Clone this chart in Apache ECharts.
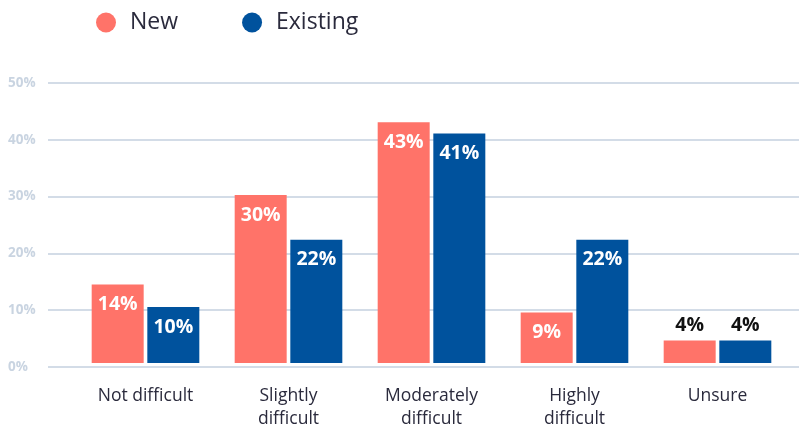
<!DOCTYPE html>
<html>
<head>
<meta charset="utf-8">
<script src="https://cdn.jsdelivr.net/npm/echarts@6/dist/echarts.min.js"></script>
<style>
  html, body { margin: 0; padding: 0; background: #ffffff; }
  #chart { width: 799px; height: 431px; }
</style>
</head>
<body>
<div id="chart"></div>
<script>
// Survey answers: how difficult it was, for new vs existing respondents
const categories = ['Not difficult', 'Slightly\ndifficult', 'Moderately\ndifficult', 'Highly\ndifficult', 'Unsure'];
const newValues = [14, 30, 43, 9, 4];
const existingValues = [10, 22, 41, 22, 4];
const yTicks = [0, 10, 20, 30, 40, 50];

const NEW_COLOR = '#ff7369';
const EXISTING_COLOR = '#00529d';
const FONT = '"Open Sans", Lato, "Noto Sans", sans-serif';

// Short bars get their label above the bar in dark text
function toItems(values) {
  return values.map(v => v < 6
    ? { value: v, label: { position: 'top', distance: 5, color: '#111111' } }
    : { value: v });
}

const barLabel = {
  show: true,
  position: 'insideTop',
  distance: 10,
  color: '#ffffff',
  fontFamily: FONT,
  fontWeight: 'bold',
  fontSize: 19.5,
  formatter: p => p.value + '%'
};

const chart = echarts.init(document.getElementById('chart'), null, { renderer: 'canvas' });
chart.setOption({
  animation: false,
  backgroundColor: '#ffffff',
  legend: {
    left: 91,
    top: 6,
    icon: 'circle',
    itemWidth: 20,
    itemHeight: 20,
    itemGap: 64,
    textStyle: { fontFamily: FONT, fontSize: 23, color: '#2a2a3c', padding: [0, 0, 0, 9] },
    data: ['New', 'Existing']
  },
  grid: [
    // full-width grid carrying the value gridlines
    { left: 48, right: 0, top: 83, bottom: 64 },
    // inset grid holding the bars
    { left: 74, right: 10, top: 83, bottom: 64 }
  ],
  xAxis: [
    { type: 'value', gridIndex: 0, show: false, min: 0, max: 1 },
    {
      type: 'category',
      gridIndex: 1,
      data: categories,
      axisLine: { show: false },
      axisTick: { show: false },
      axisLabel: {
        margin: 22,
        fontFamily: FONT,
        fontSize: 17.5,
        lineHeight: 23,
        color: '#2a2a3c'
      }
    }
  ],
  yAxis: [
    {
      type: 'value',
      gridIndex: 0,
      min: yTicks[0],
      max: yTicks[yTicks.length - 1],
      interval: 10,
      axisLine: { show: false },
      axisTick: { show: false },
      splitLine: { lineStyle: { color: '#d3dce7', width: 2 } },
      axisLabel: {
        align: 'left',
        margin: 40,
        fontFamily: FONT,
        fontWeight: 'bold',
        fontSize: 13.5,
        color: '#c9d4e1',
        formatter: v => v + '%'
      }
    },
    {
      type: 'value',
      gridIndex: 1,
      min: yTicks[0],
      max: yTicks[yTicks.length - 1],
      interval: 10,
      show: false,
      splitLine: { show: false }
    }
  ],
  series: [
    {
      name: 'New',
      type: 'bar',
      xAxisIndex: 1,
      yAxisIndex: 1,
      barWidth: 52,
      barGap: '7%',
      itemStyle: { color: NEW_COLOR },
      label: barLabel,
      data: toItems(newValues)
    },
    {
      name: 'Existing',
      type: 'bar',
      xAxisIndex: 1,
      yAxisIndex: 1,
      barWidth: 52,
      barGap: '7%',
      itemStyle: { color: EXISTING_COLOR },
      label: barLabel,
      data: toItems(existingValues)
    }
  ]
});
</script>
</body>
</html>
